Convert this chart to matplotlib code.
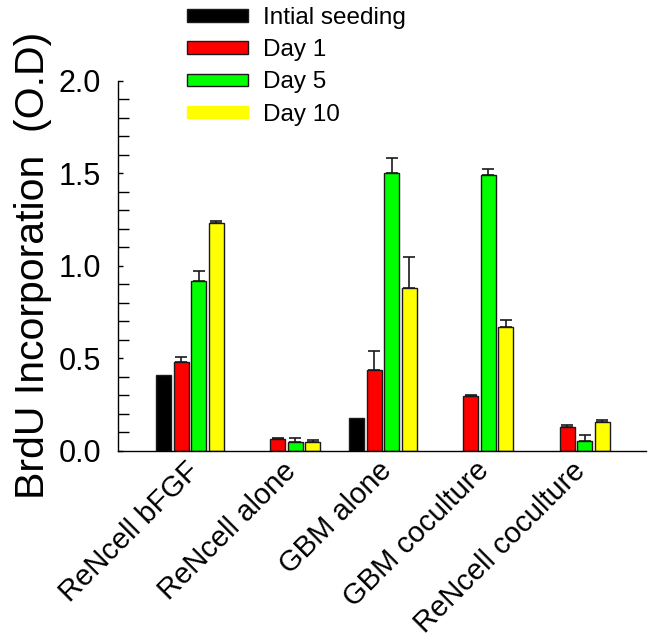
import numpy as np
import matplotlib
matplotlib.use("Agg")
import matplotlib.pyplot as plt
import matplotlib.transforms as mtransforms
from matplotlib.ticker import MultipleLocator
from matplotlib.patches import Patch

plt.rcParams['font.family'] = ['Liberation Sans', 'DejaVu Sans']

categories = ["ReNcell bFGF", "ReNcell alone", "GBM alone", "GBM coculture", "ReNcell coculture"]
series_names = ["Intial seeding", "Day 1", "Day 5", "Day 10"]
initial = [0.41, np.nan, 0.18, np.nan, np.nan]
day1 = [0.48, 0.065, 0.435, 0.295, 0.13]
day5 = [0.92, 0.05, 1.50, 1.49, 0.055]
day10 = [1.23, 0.05, 0.88, 0.67, 0.155]
err_initial = [0.0, 0.0, 0.0, 0.0, 0.0]
err_day1 = [0.025, 0.003, 0.105, 0.008, 0.01]
err_day5 = [0.052, 0.02, 0.08, 0.035, 0.032]
err_day10 = [0.012, 0.012, 0.17, 0.038, 0.011]

values = [initial, day1, day5, day10]
errors = [err_initial, err_day1, err_day5, err_day10]
colors = ["#000000", "#FF0000", "#00FF00", "#FFFF00"]

fig = plt.figure(figsize=(6.54, 6.44), dpi=100)
ax = fig.add_axes([118/654, 1 - 451/644, (646-118)/654, (451-80.7)/644])

x = np.arange(len(categories))
spacing = 0.182
width = 0.155
for i, (vals, errs, col) in enumerate(zip(values, errors, colors)):
    xs = x + (i - 1.5) * spacing
    v = np.array(vals, dtype=float)
    e = np.array(errs, dtype=float)
    ax.bar(xs, v, width=width, color=col, edgecolor='#1a1a1a', linewidth=1.0, zorder=2)
    mask = ~np.isnan(v) & (e > 0)
    ax.errorbar(xs[mask], v[mask], yerr=[np.zeros(mask.sum()), e[mask]], fmt='none',
                ecolor='#1a1a1a', elinewidth=1.2, capsize=4, capthick=1.2, zorder=1)

ax.set_xlim(-0.745, 4.727)
ax.set_ylim(0, 2.0)
ax.spines['top'].set_visible(False)
ax.spines['right'].set_visible(False)
ax.spines['left'].set_linewidth(1.0)
ax.spines['bottom'].set_linewidth(1.0)
ax.yaxis.set_major_locator(MultipleLocator(0.5))
ax.yaxis.set_minor_locator(MultipleLocator(0.1))
ax.tick_params(axis='y', which='major', direction='in', length=3.5, width=1.0, labelsize=22, pad=12)
ax.tick_params(axis='y', which='minor', direction='in', length=8, width=1.0)
ax.set_yticks([0.0, 0.5, 1.0, 1.5, 2.0])
ax.set_yticklabels(["0.0", "0.5", "1.0", "1.5", "2.0"])
ax.set_xticks(x)
ax.set_xticklabels(categories, rotation=45, ha='right', rotation_mode='anchor', fontsize=21)
ax.tick_params(axis='x', length=0, pad=4)
offset = mtransforms.ScaledTranslation(-5/100, 0, fig.dpi_scale_trans)
for lbl in ax.get_xticklabels():
    lbl.set_transform(lbl.get_transform() + offset)
ax.set_ylabel("BrdU Incorporation  (O.D)", fontsize=29.5, labelpad=5)

legend_handles = [Patch(facecolor=c, edgecolor=('#1a1a1a' if c != "#FFFF00" else c), linewidth=1.0) for c in colors]
fig.legend(legend_handles, series_names, loc='upper left', bbox_to_anchor=(187/654, 1 - 7/644),
           frameon=False, fontsize=17.5, handlelength=2.5, handleheight=0.41,
           labelspacing=0.42, handletextpad=0.62, borderpad=0, borderaxespad=0)

fig.savefig("out.png", dpi=100)
